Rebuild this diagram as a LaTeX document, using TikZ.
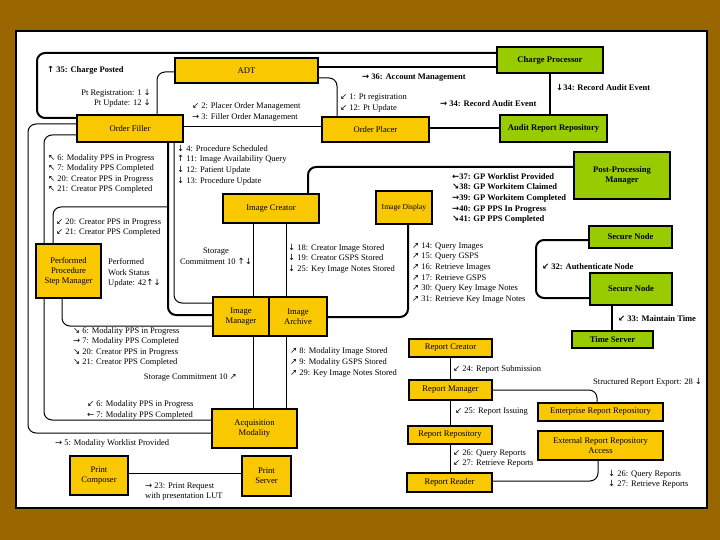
\documentclass[tikz,border=0pt]{standalone}
\usepackage{fontspec}
\setmainfont{Liberation Serif}
\newfontfamily\arrowfont{DejaVu Sans}
\usetikzlibrary{positioning}

\definecolor{frameBrown}{RGB}{153,102,0}
\definecolor{actorGold}{RGB}{250,200,0}
\definecolor{actorGreen}{RGB}{153,204,0}

% arrow glyphs
\newcommand{\arU}{{\arrowfont\char"2191}}
\newcommand{\arD}{{\arrowfont\char"2193}}
\newcommand{\arL}{{\arrowfont\char"2190}}
\newcommand{\arR}{{\arrowfont\char"2192}}
\newcommand{\arNW}{{\arrowfont\char"2196}}
\newcommand{\arNE}{{\arrowfont\char"2197}}
\newcommand{\arSE}{{\arrowfont\char"2198}}
\newcommand{\arSW}{{\arrowfont\char"2199}}

\tikzset{
  actor/.style={draw, line width=1.7pt, inner sep=1pt, align=center, font=\fontsize{8.6}{10}\selectfont},
  goldbox/.style={actor, fill=actorGold},
  greenbox/.style={actor, fill=actorGreen, font=\fontsize{8.6}{10}\selectfont\bfseries},
  link/.style={line width=1pt, rounded corners=8pt},
  linkB/.style={line width=2pt, rounded corners=8pt},
  lbl/.style={inner sep=0pt, anchor=west, align=left, font=\fontsize{8.5}{10.6}\selectfont},
  lblB/.style={lbl, font=\fontsize{8.5}{10.6}\selectfont\bfseries}
}

\begin{document}
\begin{tikzpicture}[x=1pt,y=-1pt]

\useasboundingbox (0,0) rectangle (720,540);

% frame
\fill[frameBrown] (0,0) rectangle (720,540);
\draw[fill=white, line width=1.5pt] (16,31) rectangle (707,508);

% Actors
\node[goldbox, minimum width=143pt, minimum height=25pt] (adt) at (246.5,70.5) {ADT};
\node[goldbox, minimum width=106pt, minimum height=27pt] (ofill) at (130,128.5) {Order Filler};
\node[goldbox, minimum width=107pt, minimum height=25pt] (oplc) at (375.5,129.5) {Order Placer};
\node[greenbox, minimum width=106pt, minimum height=26pt] (chg) at (550,60) {Charge Processor};
\node[greenbox, minimum width=107pt, minimum height=27pt] (arr) at (553.5,128.5) {Audit Report Repository};
\node[goldbox, minimum width=96pt, minimum height=29pt] (icr) at (271,208.5) {Image Creator};
\node[goldbox, minimum width=56pt, minimum height=33pt, font=\fontsize{7.6}{9}\selectfont] (idsp) at (404,207.5) {Image Display};
\node[goldbox, minimum width=65pt, minimum height=54pt] (pps) at (68.5,271) {Performed\\Procedure\\Step Manager};
\node[goldbox, minimum width=56pt, minimum height=39pt] (imgr) at (241,316.5) {Image\\Manager};
\node[goldbox, minimum width=58pt, minimum height=39pt] (iarc) at (298,316.5) {Image\\Archive};
\node[goldbox, minimum width=85pt, minimum height=39pt] (acq) at (254.5,428.5) {Acquisition\\Modality};
\node[goldbox, minimum width=58pt, minimum height=39pt] (pcomp) at (99,475.5) {Print\\Composer};
\node[goldbox, minimum width=49pt, minimum height=40pt] (psrv) at (266.5,476) {Print\\Server};
\node[goldbox, minimum width=83pt, minimum height=18pt] (rcr) at (450.5,348) {Report Creator};
\node[goldbox, minimum width=83pt, minimum height=20pt] (rmgr) at (450.5,390) {Report Manager};
\node[goldbox, minimum width=84pt, minimum height=18pt] (rrep) at (450,435) {Report Repository};
\node[goldbox, minimum width=85pt, minimum height=19pt] (rrd) at (449.5,482.5) {Report Reader};
\node[goldbox, minimum width=125pt, minimum height=18pt] (err) at (600.5,412) {Enterprise Report Repository};
\node[goldbox, minimum width=125pt, minimum height=29pt] (erra) at (600.5,445.5) {External Report Repository\\Access};
\node[greenbox, minimum width=96pt, minimum height=47pt] (ppm) at (622,175.5) {Post-Processing\\Manager};
\node[greenbox, minimum width=83pt, minimum height=22pt] (sn1) at (630.5,237) {Secure Node};
\node[greenbox, minimum width=82pt, minimum height=32pt] (sn2) at (631,289) {Secure Node};
\node[greenbox, minimum width=81pt, minimum height=17pt] (tsrv) at (612.5,339.5) {Time Server};

% ADT, charges and audit
\draw[linkB] (ofill.west |- 0,118) -- (37,118) -- (37,53) -- (chg.west |- 0,53);
\draw[link] (ofill.north -| 157,0) -- (157,72) -- (adt.west |- 0,72);
\draw[linkB] (adt.east |- 0,67) -- (chg.west |- 0,67);
\draw[link] (adt.east |- 0,78) -- (337,78) -- (oplc.north -| 337,0);
\draw[link] (ofill.east |- 0,127) -- (oplc.west |- 0,127);
\draw[linkB] (oplc.east |- 0,128) -- (arr.west |- 0,128);
\draw[linkB] (chg.south) -- (chg.south |- arr.north);

\node[lblB] (l35) at (47,70) {\arU\ 35: Charge Posted};
\node[lbl, anchor=east, align=right] (l1of) at (151,98.5) {Pt Registration: 1 \arD\\Pt Update: 12 \arD};
\node[lblB] (l36) at (362,78) {\arR\ 36: Account Management};
\node[lbl] (l1op) at (340,103) {\arSW\ 1: Pt registration\\\arSW\ 12: Pt Update};
\node[lbl] (l2) at (192,112) {\arSW\ 2: Placer Order Management\\\arR\ 3: Filler Order Management};
\node[lblB] (l34a) at (440,104) {\arR\ 34: Record Audit Event};
\node[lblB] (l34b) at (556,87) {\arD34: Record Audit Event};

% Order Filler, PPS Manager, Modality
\draw[link] (ofill.west |- 0,124) -- (28,124) -- (28,433) -- (acq.west |- 0,433);
\draw[link] (ofill.west |- 0,135) -- (44,135) -- (pps.north -| 44,0);
\draw[link] (pps.south -| 44,0) -- (44,420) -- (acq.west |- 0,420);
\draw[link] (pps.north -| 53,0) -- (53,207) -- (168,207);
\draw[link] (pps.south -| 62,0) -- (62,326) -- (imgr.west |- 0,326);
\draw[linkB] (ofill.south -| 168,0) -- (168,315) -- (imgr.west |- 0,315);
\draw[link] (ofill.south -| 174,0) -- (174,303) -- (imgr.west |- 0,303);

\node[lbl] (l4) at (177,165) {\arD\ 4: Procedure Scheduled\\\arU\ 11: Image Availability Query\\\arD\ 12: Patient Update\\\arD\ 13: Procedure Update};
\node[lbl] (l6of) at (48,174) {\arNW\ 6: Modality PPS in Progress\\\arNW\ 7: Modality PPS Completed\\\arNW\ 20: Creator PPS in Progress\\\arNW\ 21: Creator PPS Completed};
\node[lbl] (l20) at (56,227.5) {\arSW\ 20: Creator PPS in Progress\\\arSW\ 21: Creator PPS Completed};
\node[lbl] (lpwsu) at (108,273) {Performed\\Work Status\\Update: 42\arU\arD};
\node[lbl] (l6im) at (73,347) {\arSE\ 6: Modality PPS in Progress\\\arR\ 7: Modality PPS Completed\\\arSE\ 20: Creator PPS in Progress\\\arSE\ 21: Creator PPS Completed};
\node[lbl] (l6acq) at (87,410) {\arSW\ 6: Modality PPS in Progress\\\arL\ 7: Modality PPS Completed};
\node[lbl] (l5) at (55,443) {\arR\ 5: Modality Worklist Provided};

% Image Creator, Display, Manager, Archive
\draw[link] (icr.south -| 253,0) -- (imgr.north -| 253,0);
\draw[link] (icr.south -| 286,0) -- (iarc.north -| 286,0);
\draw[linkB] (idsp.south -| 408,0) -- (408,317) -- (iarc.east |- 0,317);
\draw[linkB] (icr.north -| 308,0) -- (308,167) -- (ppm.west |- 0,167);
\draw[link] (acq.north -| 253,0) -- (imgr.south -| 253,0);
\draw[link] (acq.north -| 286,0) -- (iarc.south -| 286,0);

\node[lbl, anchor=center, align=center] (lsc1) at (216,256) {Storage\\Commitment 10 \arU\arD};
\node[lbl] (l18) at (288,258.5) {\arD\ 18: Creator Image Stored\\\arD\ 19: Creator GSPS Stored\\\arD\ 25: Key Image Notes Stored};
\node[lbl] (l14) at (412,273) {\arNE\ 14: Query Images\\\arNE\ 15: Query GSPS\\\arNE\ 16: Retrieve Images\\\arNE\ 17: Retrieve GSPS\\\arNE\ 30: Query Key Image Notes\\\arNE\ 31: Retrieve Key Image Notes};
\node[lblB] (l37) at (452,198.5) {\arL37: GP Worklist Provided\\\arSE38: GP Workitem Claimed\\\arR39: GP Workitem Completed\\\arR40: GP PPS In Progress\\\arSE41: GP PPS Completed};
\node[lbl, anchor=east] (lsc2) at (237,378) {Storage Commitment 10 \arNE};
\node[lbl] (l8) at (290,362.5) {\arNE\ 8: Modality Image Stored\\\arNE\ 9: Modality GSPS Stored\\\arNE\ 29: Key Image Notes Stored};

% Print
\draw[link] (pcomp.east |- 0,473) -- (psrv.west |- 0,473);
\node[lbl] (l23) at (145,491.5) {\arR\ 23: Print Request\\with presentation LUT};

% Reports
\draw[link] (rcr.south) -- (rcr.south |- rmgr.north);
\draw[link] (rmgr.south) -- (rmgr.south |- rrep.north);
\draw[link] (rrep.south) -- (rrep.south |- rrd.north);
\draw[link] (rmgr.east |- 0,390) -- (597,390) -- (err.north -| 597,0);
\draw[link] (rrd.east |- 0,481) -- (598,481) -- (erra.south -| 598,0);

\node[lbl] (l24) at (453,369) {\arSW\ 24: Report Submission};
\node[lbl] (l25) at (455,412) {\arSW\ 25: Report Issuing};
\node[lbl] (l26r) at (453,458.5) {\arSW\ 26: Query Reports\\\arSW\ 27: Retrieve Reports};
\node[lbl] (l28) at (593,382) {Structured Report Export: 28 \arD};
\node[lbl] (l26e) at (608,479.5) {\arD\ 26: Query Reports\\\arD\ 27: Retrieve Reports};

% Secure nodes and time
\draw[linkB] (sn1.west |- 0,240) -- (536,240) -- (536,298) -- (sn2.west |- 0,298);
\draw[linkB] (sn2.south -| 612,0) -- (tsrv.north -| 612,0);
\node[lblB] (l32) at (542,267) {\arSW\ 32: Authenticate Node};
\node[lblB] (l33) at (618,319) {\arSW\ 33: Maintain Time};

\end{tikzpicture}
\end{document}
